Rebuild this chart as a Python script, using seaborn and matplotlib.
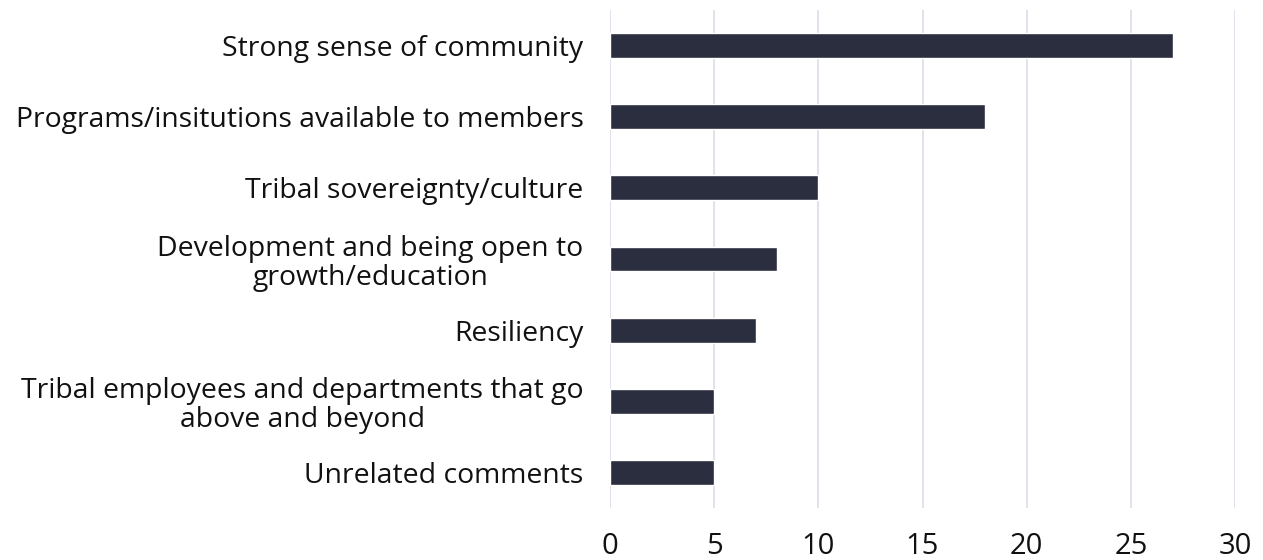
import pandas as pd
import matplotlib.pyplot as plt
import seaborn as sns

categories = [
    "Strong sense of community",
    "Programs/insitutions available to members",
    "Tribal sovereignty/culture",
    "Development and being open to\ngrowth/education",
    "Resiliency",
    "Tribal employees and departments that go\nabove and beyond",
    "Unrelated comments",
]
counts = [27, 18, 10, 8, 7, 5, 5]
x_ticks = [0, 5, 10, 15, 20, 25, 30]

df = pd.DataFrame({"category": categories, "count": counts})

sns.set_theme(style="white")
plt.rcParams["font.family"] = ["Open Sans", "DejaVu Sans"]

fig = plt.figure(figsize=(12.63, 5.6), dpi=100)
ax = fig.add_axes([610 / 1263, 52 / 560, 625 / 1263, 498 / 560])

sns.barplot(data=df, x="count", y="category", color="#2b2e3f", width=0.35,
            saturation=1, ax=ax, zorder=3)

ax.set_xlim(0, 30)
ax.set_ylim(6.5, -0.5)
ax.set_xticks(x_ticks)
ax.xaxis.grid(True, color="#dcdde8", linewidth=1.2, zorder=0)
ax.yaxis.grid(False)
for s in ax.spines.values():
    s.set_visible(False)

ax.set_xlabel("")
ax.set_ylabel("")
ax.tick_params(axis="x", labelsize=21, pad=17, length=0, labelcolor="#111111")
ax.tick_params(axis="y", labelsize=20.4, pad=19, length=0, labelcolor="#111111")
for lab in ax.get_yticklabels():
    lab.set_multialignment("center")
    lab.set_linespacing(1.05)
    lab.set_fontweight(350)
for lab in ax.get_xticklabels():
    lab.set_fontweight(350)

fig.savefig("out.png", dpi=100)
